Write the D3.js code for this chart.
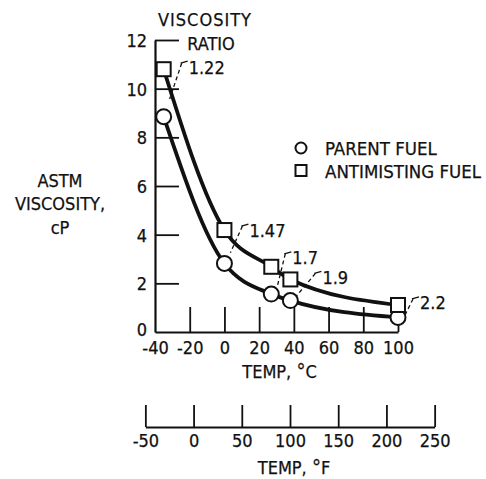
<!DOCTYPE html>
<html><head><meta charset="utf-8">
<script src="https://cdn.jsdelivr.net/npm/d3@7"></script>
<style>
body{margin:0;background:#fff}
text{font-family:"Liberation Sans Narrow","DejaVu Sans Condensed","Roboto",sans-serif;fill:#111;stroke:#111;stroke-width:0.25px}
</style>
</head><body>
<svg id="c" width="486" height="479"></svg>
<script>
// ---- data ----
const tempsC = [-35, 0, 27, 38, 100];
const parentFuel = [8.85, 2.82, 1.56, 1.29, 0.6];
const antimistingFuel = [10.8, 4.19, 2.68, 2.16, 1.11];
const ratioLabels = ["1.22", "1.47", "1.7", "1.9", "2.2"];
const yTicks = [0, 2, 4, 6, 8, 10, 12];
const xTicksC = [-40, -20, 0, 20, 40, 60, 80, 100];
const xTicksF = [-50, 0, 50, 100, 150, 200, 250];
const seriesNames = ["PARENT FUEL", "ANTIMISTING FUEL"];

// ---- drawing ----
const svg = d3.select("#c");
const x = d3.scaleLinear([-40, 100], [155, 398]);
const y = d3.scaleLinear([0, 12], [332, 40]);
const xF = d3.scaleLinear([-50, 250], [x((-50 - 32) * 5 / 9), x((250 - 32) * 5 / 9)]);
const fmt = d => String(d);

// Y axis
const gy = svg.append("g").attr("transform", `translate(${x(-40)},0)`)
  .call(d3.axisLeft(y).tickValues(yTicks).tickFormat(fmt).tickSize(-24).tickSizeOuter(0));
gy.select(".domain").attr("stroke", "#111").attr("stroke-width", 2.2);
gy.selectAll(".tick line").attr("stroke", "#111").attr("stroke-width", 1.8);
gy.selectAll(".tick text").attr("font-size", 18).attr("dy", "0.36em").attr("x", -8);
gy.selectAll(".tick").filter(d => d === 0).select("line").remove();
gy.selectAll(".tick").filter(d => d === 0).select("text").attr("y", -3);

// X axis (C)
const gx = svg.append("g").attr("transform", `translate(0,${y(0)})`)
  .call(d3.axisBottom(x).tickValues(xTicksC).tickFormat(fmt).tickSize(-25).tickSizeOuter(0));
gx.select(".domain").attr("stroke", "#111").attr("stroke-width", 2.2);
gx.selectAll(".tick line").attr("stroke", "#111").attr("stroke-width", 1.8);
gx.selectAll(".tick text").attr("font-size", 18).attr("y", 9).attr("dy", "0.71em");
gx.selectAll(".tick").filter(d => d === -40).select("line").remove();

const tc = svg.append("text").attr("x", x(30) + 3).attr("y", 378).attr("text-anchor", "middle").attr("font-size", 18);
tc.append("tspan").text("TEMP,  ");
tc.append("tspan").attr("font-size", 20).text("°");
tc.append("tspan").text("C");

// X axis (F)
const gf = svg.append("g").attr("transform", `translate(0,427)`)
  .call(d3.axisBottom(xF).tickValues(xTicksF).tickFormat(fmt).tickSize(-22).tickSizeOuter(0));
gf.select(".domain").attr("stroke", "#111").attr("stroke-width", 2.2);
gf.selectAll(".tick line").attr("stroke", "#111").attr("stroke-width", 1.8);
gf.selectAll(".tick text").attr("font-size", 18).attr("y", 7).attr("dy", "0.71em");

const tf = svg.append("text").attr("x", xF(100) + 4).attr("y", 474).attr("text-anchor", "middle").attr("font-size", 18);
tf.append("tspan").text("TEMP,  ");
tf.append("tspan").attr("font-size", 20).text("°");
tf.append("tspan").text("F");

// titles
svg.append("text").attr("x", 205).attr("y", 26).attr("text-anchor", "middle").attr("font-size", 18)
  .attr("letter-spacing", 1).text("VISCOSITY");
svg.append("text").attr("x", 211).attr("y", 50).attr("text-anchor", "middle").attr("font-size", 18).text("RATIO");
[["ASTM", 187], ["VISCOSITY,", 210], ["cP", 234]].forEach(([t, yy]) =>
  svg.append("text").attr("x", 60).attr("y", yy).attr("text-anchor", "middle").attr("font-size", 18).text(t));

// curves
const line = d3.line().x(d => x(d[0])).y(d => y(d[1])).curve(d3.curveMonotoneX);
[parentFuel, antimistingFuel].forEach(vals => {
  svg.append("path").datum(tempsC.map((t, i) => [t, vals[i]]))
    .attr("d", line).attr("fill", "none").attr("stroke", "#111").attr("stroke-width", 3.8);
});

// ratio annotations
const labelOff = [[25, -2], [25, 0], [21, -9], [32, -2], [22, -2]];
tempsC.forEach((t, i) => {
  const xs = x(t), ys = y(antimistingFuel[i]), yc = y(parentFuel[i]);
  const lx = xs + labelOff[i][0], ly = ys + labelOff[i][1];
  const tx = xs + 6, ty = (ys + yc) / 2 + 6;
  svg.append("path").attr("d", `M${lx - 1},${ly - 6} L${lx - 8},${ly - 4}`)
    .attr("stroke", "#111").attr("stroke-width", 1.3).attr("fill", "none");
  svg.append("line").attr("x1", lx - 7).attr("y1", ly - 4).attr("x2", tx).attr("y2", ty)
    .attr("stroke", "#111").attr("stroke-width", 1.3).attr("stroke-dasharray", "4,3");
  svg.append("text").attr("x", lx).attr("y", ly).attr("dy", "0.36em").attr("font-size", 18).text(ratioLabels[i]);
});

// markers
svg.append("g").selectAll("circle").data(tempsC).join("circle")
  .attr("cx", d => x(d)).attr("cy", (d, i) => y(parentFuel[i])).attr("r", 7.5)
  .attr("fill", "#fff").attr("stroke", "#111").attr("stroke-width", 2);
svg.append("g").selectAll("rect").data(tempsC).join("rect")
  .attr("x", d => x(d) - 7).attr("y", (d, i) => y(antimistingFuel[i]) - 7).attr("width", 14).attr("height", 14)
  .attr("fill", "#fff").attr("stroke", "#111").attr("stroke-width", 2);

// legend
const lg = svg.append("g");
lg.append("circle").attr("cx", 301).attr("cy", 148).attr("r", 5.5).attr("fill", "#fff").attr("stroke", "#111").attr("stroke-width", 2);
lg.append("rect").attr("x", 295.5).attr("y", 165).attr("width", 11).attr("height", 11).attr("fill", "#fff").attr("stroke", "#111").attr("stroke-width", 2);
lg.append("text").attr("x", 325).attr("y", 148).attr("dy", "0.36em").attr("font-size", 18.5).text(seriesNames[0]);
lg.append("text").attr("x", 325).attr("y", 171).attr("dy", "0.36em").attr("font-size", 18.5).text(seriesNames[1]);
</script>
</body></html>
